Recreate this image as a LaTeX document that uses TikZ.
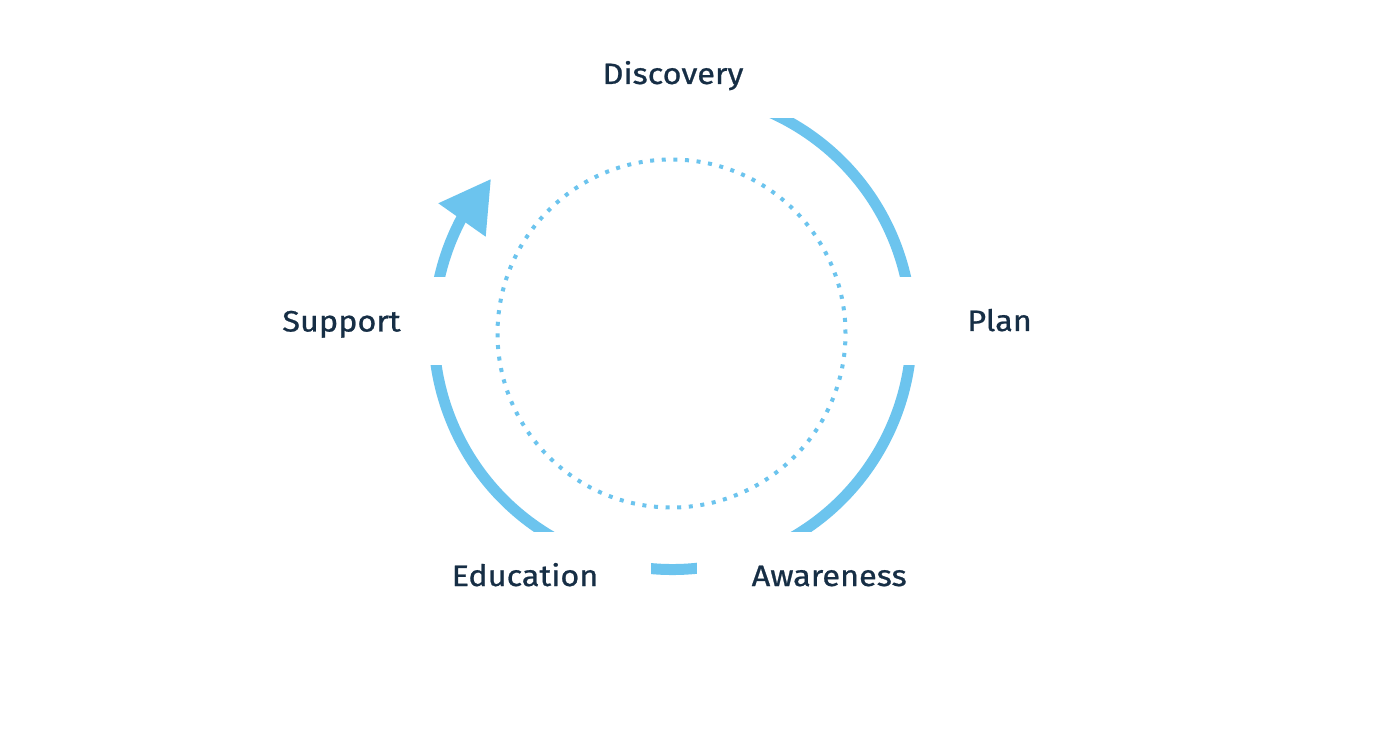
\documentclass[tikz,border=0pt]{standalone}
\usepackage{fontspec}
\setmainfont{Fira Sans}[FakeStretch=1.1,FakeBold=0.8]
\definecolor{ringblue}{RGB}{108,196,238}
\definecolor{labelnavy}{RGB}{22,46,69}
\begin{document}
\begin{tikzpicture}[x=1pt,y=1pt,
  ring/.style={draw=ringblue,line width=11pt},
  dots/.style={draw=ringblue,line width=4pt,dash pattern=on 4pt off 7.63pt},
  mask/.style={fill=white,draw=none},
  label/.style={text=labelnavy,font=\fontsize{29.5}{34}\selectfont,anchor=base,inner sep=0pt}]
\useasboundingbox[fill=white] (0,0) rectangle (1400,750);
% centres
\coordinate (c) at (672.6,419.5);
\coordinate (d) at (671.5,416.5);
% dotted inner circle
\draw[dots] (d) circle[radius=174];
% outer ring, from the arrow back round to the top
\draw[ring] (c) ++(150:239) arc[start angle=150,end angle=450,radius=239];
% arrow head
\coordinate (tip) at (490.7,570.7);
\coordinate (bl) at (438.3,546.7);
\coordinate (br) at (485.7,513.3);
\fill[ringblue] (tip) -- (bl) -- (br) -- cycle;
% label backgrounds cutting the ring
\fill[mask] (540,632) rectangle (810,720);
\fill[mask] (880,385) rectangle (1100,473);
\fill[mask] (240,385) rectangle (460,473);
\fill[mask] (400,100) rectangle (651,218);
\fill[mask] (697,100) rectangle (950,218);
% labels
\node[label] (disc) at (673,666) {Discovery};
\node[label] (plan) at (999.6,419) {Plan};
\node[label] (supp) at (341.5,418.5) {Support};
\node[label] (edu) at (525,164) {Education};
\node[label] (aware) at (829.2,164) {Awareness};
\end{tikzpicture}
\end{document}
